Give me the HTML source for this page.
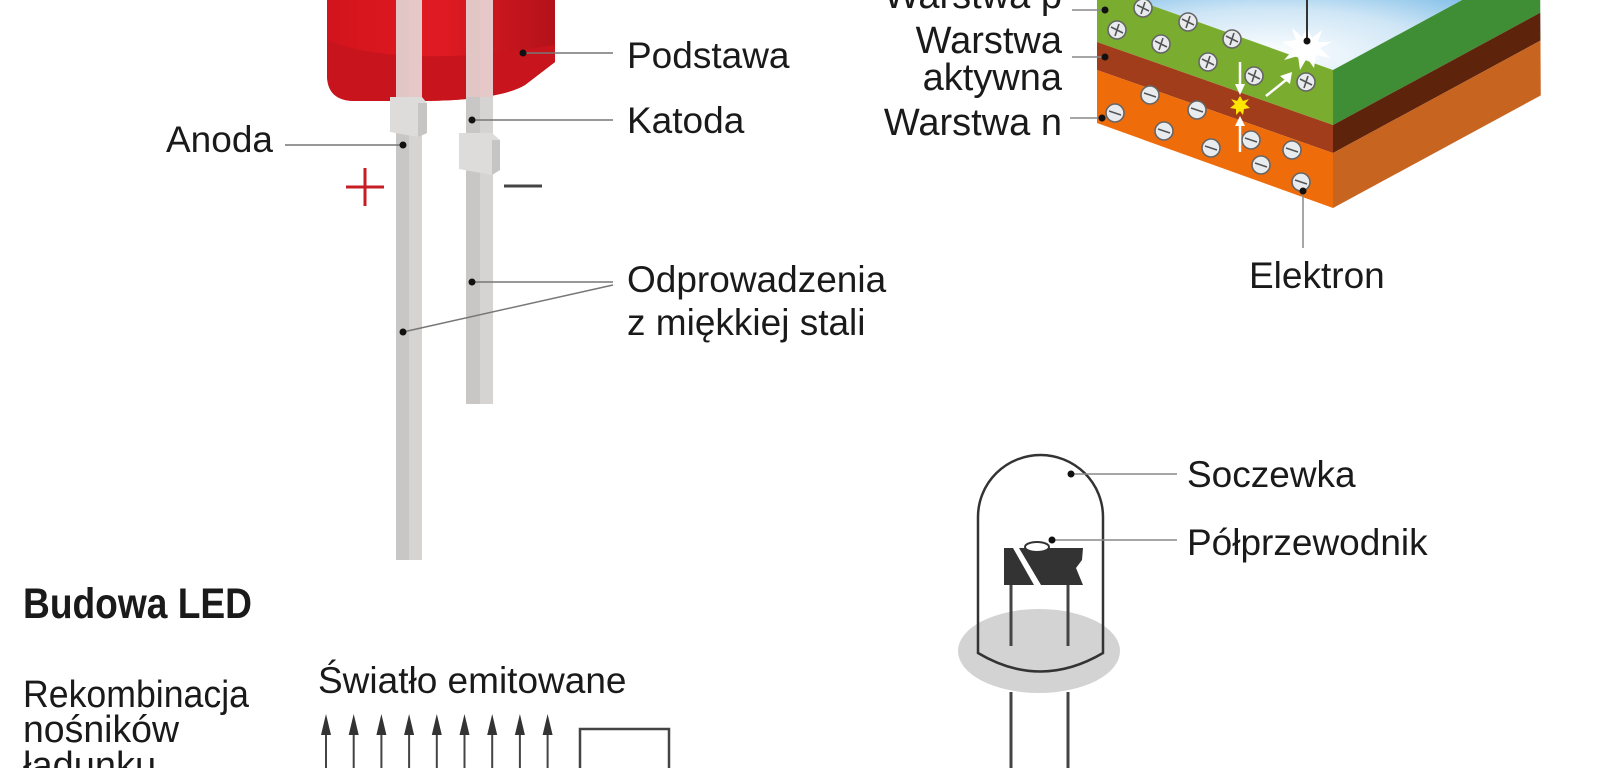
<!DOCTYPE html>
<html><head><meta charset="utf-8"><style>
html,body{margin:0;padding:0;background:#fff;}
svg{display:block}
text{font-family:"Liberation Sans",sans-serif;fill:#1a1a1a;}
</style></head><body>
<svg width="1600" height="768" viewBox="0 0 1600 768" xmlns="http://www.w3.org/2000/svg">
<defs>
<linearGradient id="red" x1="0" y1="0" x2="1" y2="0">
<stop offset="0" stop-color="#d3141c"/><stop offset="0.5" stop-color="#e01a22"/><stop offset="1" stop-color="#b3121a"/></linearGradient>
<radialGradient id="blue" cx="0.35" cy="0.9" r="0.8">
<stop offset="0" stop-color="#ffffff"/><stop offset="0.4" stop-color="#cfe6f6"/><stop offset="1" stop-color="#2c93d8"/></radialGradient>
</defs>

<path d="M327,0 L555,0 L555,62 L525,85 Q500,100 423,101 L355,101 Q327,101 327,75 Z" fill="url(#red)"/>
<path d="M327,40 Q400,70 555,45 L555,62 L525,85 Q500,100 423,101 L355,101 Q327,101 327,75 Z" fill="#c8141c"/>
<rect x="396" y="0" width="26" height="560" fill="#c9c7c6"/>
<rect x="409" y="0" width="13" height="560" fill="#d6d4d3"/>
<rect x="396" y="0" width="26" height="97" fill="#e8c4c4" opacity="0.8"/>
<rect x="466" y="0" width="27" height="404" fill="#c9c7c6"/>
<rect x="480" y="0" width="13" height="404" fill="#d6d4d3"/>
<rect x="466" y="0" width="27" height="97" fill="#e8c4c4" opacity="0.8"/>
<path d="M390,97 L422,97 L427,103 L427,133 L418,137 L390,132 Z" fill="#dddcdb"/>
<path d="M418,103 L427,103 L427,133 L418,137 Z" fill="#c6c5c4"/>
<path d="M459,133 L492,133 L500,140 L500,170 L492,175 L459,169 Z" fill="#dddcdb"/>
<path d="M492,140 L500,140 L500,170 L492,175 Z" fill="#c6c5c4"/>

<g stroke="#777" stroke-width="1.5" fill="none">
<line x1="523" y1="53" x2="613" y2="53"/>
<line x1="472" y1="120" x2="613" y2="120"/>
<line x1="285" y1="145" x2="403" y2="145"/>
<line x1="472" y1="282" x2="613" y2="282"/>
<line x1="403" y1="332" x2="613" y2="285"/>
</g>
<g fill="#111">
<circle cx="523" cy="53" r="3.5"/><circle cx="472" cy="120" r="3.5"/><circle cx="403" cy="145" r="3.5"/>
<circle cx="472" cy="282" r="3.5"/><circle cx="403" cy="332" r="3.5"/>
</g>
<text x="627" y="68" font-size="37">Podstawa</text>
<text x="627" y="133" font-size="37">Katoda</text>
<text x="166" y="152" font-size="37">Anoda</text>
<text x="627" y="292" font-size="37">Odprowadzenia</text>
<text x="627" y="335" font-size="37">z miękkiej stali</text>
<g stroke="#c41e24" stroke-width="3"><line x1="346" y1="187" x2="384" y2="187"/><line x1="365" y1="168" x2="365" y2="206"/></g>
<line x1="504" y1="186" x2="542" y2="186" stroke="#444" stroke-width="3"/>

<polygon points="1097,-60 1600,-60 1600,-75 1540,-42 1333,70 1097,-14" fill="url(#blue)"/>
<polygon points="1097,-14 1333,70 1333,125 1097,42" fill="#7aac2f"/>
<polygon points="1097,42 1333,125 1333,153 1097,70" fill="#a13d1b"/>
<polygon points="1097,70 1333,153 1333,208 1097,123" fill="#ef6c0b"/>
<polygon points="1333,70 1560,-53 1560,2 1333,125" fill="#3f8d34"/>
<polygon points="1333,125 1560,2 1560,30 1333,153" fill="#5d230b"/>
<polygon points="1333,153 1560,30 1560,85 1333,208" fill="#c7641f"/>
<rect x="1541" y="-60" width="60" height="200" fill="#fff"/>
<polygon points="1540,-42 1541,140 1600,140 1600,-60" fill="#fff"/>

<g stroke="#666" stroke-width="1.6">
<g fill="#e9ecef">
<circle cx="1143" cy="8" r="9"/><circle cx="1117" cy="30" r="9"/><circle cx="1188" cy="22" r="9"/><circle cx="1161" cy="44" r="9"/><circle cx="1232" cy="39" r="9"/><circle cx="1208" cy="62" r="9"/><circle cx="1254" cy="76" r="9"/><circle cx="1306" cy="82" r="9"/>
<circle cx="1150" cy="95" r="9"/><circle cx="1115" cy="113" r="9"/><circle cx="1197" cy="110" r="9"/><circle cx="1164" cy="131" r="9"/><circle cx="1211" cy="148" r="9"/><circle cx="1251" cy="140" r="9"/><circle cx="1292" cy="150" r="9"/><circle cx="1261" cy="165" r="9"/><circle cx="1301" cy="182" r="9"/>
</g>
</g>
<g stroke="#555" stroke-width="1.6">
<path d="M1137,5 L1149,11 M1145,2 L1141,14 M1111,27 L1123,33 M1119,24 L1115,36 M1182,19 L1194,25 M1190,16 L1186,28 M1155,41 L1167,47 M1163,38 L1159,50 M1226,36 L1238,42 M1234,33 L1230,45 M1202,59 L1214,65 M1210,56 L1206,68 M1248,73 L1260,79 M1256,70 L1252,82 M1300,79 L1312,85 M1308,76 L1304,88"/>
<path d="M1144,93 L1156,97 M1109,111 L1121,115 M1191,108 L1203,112 M1158,129 L1170,133 M1205,146 L1217,150 M1245,138 L1257,142 M1286,148 L1298,152 M1255,163 L1267,167 M1295,180 L1307,184"/>
</g>
<polygon points="1307,28 1312,38 1322,30 1318,42 1332,42 1320,48 1330,58 1316,55 1314,68 1307,58 1300,70 1298,56 1284,60 1294,49 1282,42 1296,40 1292,28 1302,37" fill="#fff"/>
<line x1="1307" y1="0" x2="1307" y2="41" stroke="#333" stroke-width="2"/>
<circle cx="1307" cy="41" r="3.5" fill="#111"/>
<polygon points="1240,96 1243,101 1249,99 1245,104 1250,108 1244,109 1243,115 1240,111 1236,115 1236,109 1230,108 1235,104 1231,99 1237,101" fill="#ffe600"/>
<g stroke="#fff" stroke-width="2.5" fill="#fff">
<line x1="1240" y1="62" x2="1240" y2="88"/><polygon points="1235,84 1245,84 1240,95" stroke="none"/>
<line x1="1240" y1="152" x2="1240" y2="122"/><polygon points="1235,126 1245,126 1240,116" stroke="none"/>
<line x1="1266" y1="96" x2="1286" y2="80"/><polygon points="1280,76 1290,84 1292,72" stroke="none"/>
</g>
<g stroke="#888" stroke-width="1.5">
<line x1="1072" y1="10" x2="1105" y2="10"/><line x1="1072" y1="57" x2="1105" y2="57"/><line x1="1070" y1="118" x2="1102" y2="118"/>
<line x1="1303" y1="191" x2="1303" y2="248"/>
</g>
<g fill="#111"><circle cx="1105" cy="10" r="3.5"/><circle cx="1105" cy="57" r="3.5"/><circle cx="1102" cy="118" r="3.5"/><circle cx="1303" cy="191" r="3.5"/></g>
<g font-size="38" text-anchor="end">
<text x="1062" y="8">Warstwa p</text>
<text x="1062" y="53">Warstwa</text>
<text x="1062" y="90">aktywna</text>
<text x="1062" y="135">Warstwa n</text>
</g>
<text x="1249" y="288" font-size="37">Elektron</text>

<ellipse cx="1039" cy="651" rx="81" ry="42" fill="#d3d3d3"/>
<path d="M978,653 L978,517 A62.5,62 0 0 1 1103,517 L1103,653 Q1040,690 978,653 Z" fill="none" stroke="#333" stroke-width="2.5"/>
<path d="M1004,548 L1013,548 L1034,585 L1004,585 Z" fill="#333"/>
<path d="M1019,548 L1083,548 L1082,560 L1076,568 L1083,585 L1041,585 Z" fill="#333"/>
<ellipse cx="1037" cy="547" rx="12" ry="5" fill="#fff" stroke="#333" stroke-width="2"/>
<g stroke="#444" stroke-width="3">
<line x1="1011" y1="585" x2="1011" y2="646"/><line x1="1068" y1="585" x2="1068" y2="646"/>
<line x1="1011" y1="692" x2="1011" y2="768"/><line x1="1068" y1="692" x2="1068" y2="768"/>
</g>
<g stroke="#888" stroke-width="1.5"><line x1="1071" y1="474" x2="1177" y2="474"/><line x1="1052" y1="540" x2="1177" y2="540"/></g>
<g fill="#111"><circle cx="1071" cy="474" r="3.5"/><circle cx="1052" cy="540" r="3.5"/></g>
<text x="1187" y="487" font-size="37">Soczewka</text>
<text x="1187" y="555" font-size="37">Półprzewodnik</text>

<text x="23" y="618" font-size="43" font-weight="bold" textLength="229" lengthAdjust="spacingAndGlyphs">Budowa LED</text>
<text x="23" y="707" font-size="38" textLength="226" lengthAdjust="spacingAndGlyphs">Rekombinacja</text>
<text x="23" y="742" font-size="38" textLength="156" lengthAdjust="spacingAndGlyphs">nośników</text>
<text x="23" y="778" font-size="38">ładunku</text>
<text x="318" y="693" font-size="37">Światło emitowane</text>
<g stroke="#444" stroke-width="2" fill="#333">
<g id="ar"><line x1="326" y1="730" x2="326" y2="768"/><polygon points="321,735 331,735 326,714" stroke="none"/></g>
<use href="#ar" x="27.7"/><use href="#ar" x="55.4"/><use href="#ar" x="83.1"/><use href="#ar" x="110.8"/><use href="#ar" x="138.5"/><use href="#ar" x="166.2"/><use href="#ar" x="193.9"/><use href="#ar" x="221.6"/>
</g>
<path d="M580,770 L580,729 L669,729 L669,770" fill="none" stroke="#444" stroke-width="2.5"/>
</svg>
</body></html>
